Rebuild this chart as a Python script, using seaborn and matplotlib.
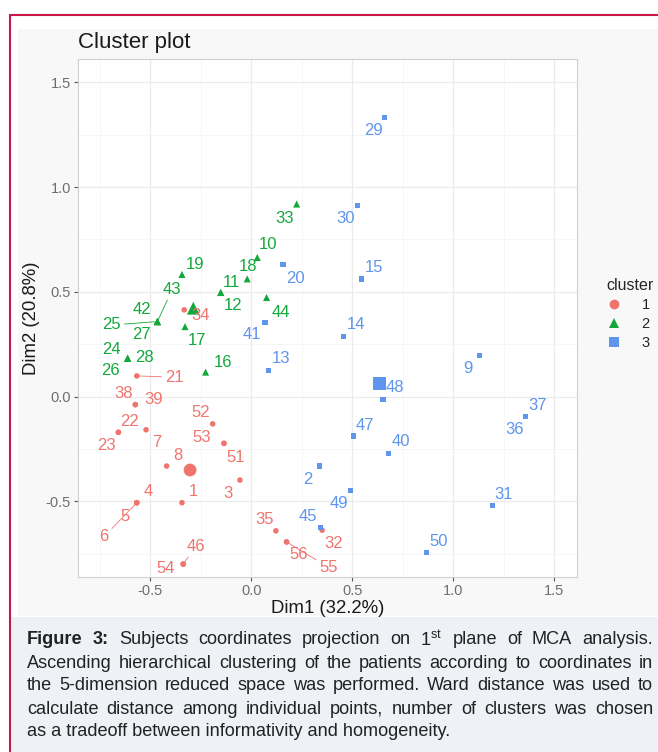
import numpy as np
import pandas as pd
import matplotlib
matplotlib.use("Agg")
import matplotlib.pyplot as plt
import seaborn as sns
from matplotlib.lines import Line2D
from matplotlib.patches import Rectangle
from matplotlib.ticker import FormatStrFormatter

# individual coordinates on the first MCA plane
point_ids = list(range(1, 57))
dim1 = [-0.344, 0.336, -0.057, -0.568, -0.568, -0.568, -0.522, -0.420, 1.128, 0.029,
        -0.152, -0.152, 0.083, 0.454, 0.547, -0.227, -0.329, -0.021, -0.344, 0.156,
        -0.568, -0.659, -0.659, -0.613, -0.466, -0.613, -0.466, -0.613, 0.661, 0.526,
        1.194, 0.350, 0.224, -0.333, 0.121, 1.359, 1.359, -0.575, -0.575, 0.677,
        0.067, -0.466, -0.466, 0.075, 0.343, -0.338, 0.504, 0.652, 0.491, 0.867,
        -0.136, -0.192, -0.136, -0.338, 0.174, 0.174]
dim2 = [-0.506, -0.331, -0.398, -0.506, -0.506, -0.506, -0.158, -0.331, 0.196, 0.664,
        0.497, 0.497, 0.123, 0.287, 0.561, 0.117, 0.334, 0.562, 0.583, 0.629,
        0.099, -0.170, -0.170, 0.183, 0.358, 0.183, 0.358, 0.183, 1.333, 0.911,
        -0.521, -0.637, 0.919, 0.414, -0.640, -0.096, -0.096, -0.038, -0.038, -0.270,
        0.354, 0.358, 0.358, 0.473, -0.624, -0.799, -0.188, -0.012, -0.449, -0.745,
        -0.223, -0.130, -0.223, -0.799, -0.693, -0.693]
cluster = ["1", "3", "1", "1", "1", "1", "1", "1", "3", "2",
           "2", "2", "3", "3", "3", "2", "2", "2", "2", "3",
           "1", "1", "1", "2", "2", "2", "2", "2", "3", "3",
           "3", "1", "2", "1", "1", "3", "3", "1", "1", "3",
           "3", "2", "2", "2", "3", "1", "3", "3", "3", "3",
           "1", "1", "1", "1", "1", "1"]

# cluster centres
centre_cluster = ["1", "2", "3"]
centre_dim1 = [-0.304, -0.288, 0.633]
centre_dim2 = [-0.350, 0.422, 0.061]

# label placement (pixel offsets from the point, like ggrepel put them)
label_offset = {
    1: (11.3, -11), 2: (-11, 13), 3: (-11.7, 13.3), 4: (11.6, -11), 5: (-11.7, 14),
    6: (-32.7, 34), 7: (10.7, 12.6), 8: (11, -10.3), 9: (-11.6, 12.6), 10: (11, -12.7),
    11: (10.3, -10), 12: (12.6, 13.3), 13: (12.4, -12), 14: (12.7, -11.7), 15: (12.3, -11.6),
    16: (17.6, -10), 17: (12.3, 14), 18: (0.4, -12.3), 19: (13, -10.4), 20: (12.3, 14),
    21: (37.3, 1.3), 22: (11, -10.6), 23: (-12.3, 13.7), 24: (-16.7, -9.3), 25: (-45.6, 3.3),
    26: (-17, 12.4), 27: (-15.6, 13.3), 28: (16.3, -1), 29: (-11.7, 13.3), 30: (-11.7, 13),
    31: (11.3, -11.7), 32: (11.7, 13.3), 33: (-12.4, 14), 34: (16.4, 6), 35: (-11.7, -11.4),
    36: (-11.7, 12.6), 37: (11.7, -11.7), 38: (-12, -10.7), 39: (18.7, -4.7), 40: (12.4, -11.6),
    41: (-12.7, 12.3), 42: (-15.3, -11.7), 43: (15, -32.4), 44: (14.3, 14.6), 45: (-12.4, -10.6),
    46: (12.7, -18), 47: (11.7, -11), 48: (11.7, -12), 49: (-11.7, 12.6), 50: (12.6, -11),
    51: (12, 14), 52: (-12, -11.3), 53: (-22.3, -6), 54: (-17.3, 4.3), 55: (42.3, 25.6),
    56: (11.6, 12.6),
}
with_segment = [6, 21, 25, 43, 46, 55]

palette = {"1": "#F0746E", "2": "#14A83C", "3": "#5E95EE"}
markers = {"1": "o", "2": "^", "3": "s"}
sizes = {"1": 16, "2": 26, "3": 14}

df = pd.DataFrame({"id": point_ids, "dim1": dim1, "dim2": dim2, "cluster": cluster})
centres = pd.DataFrame({"dim1": centre_dim1, "dim2": centre_dim2, "cluster": centre_cluster})

sns.set_style("white")
plt.rcParams["font.family"] = ["Liberation Sans", "DejaVu Sans"]
plt.rcParams["axes.unicode_minus"] = False
plt.rcParams["mathtext.fontset"] = "custom"
plt.rcParams["mathtext.rm"] = "Liberation Sans"

W, H = 658, 752
fig = plt.figure(figsize=(W / 100, H / 100), dpi=100)
fig.patch.set_facecolor("white")


def fx(px):
    return px / W


def fy(py):
    return 1 - py / H


# page decoration: red frame, grey image background, caption box
fig.add_artist(Rectangle((fx(18), fy(616)), 1 - fx(18), (616 - 29) / H, transform=fig.transFigure,
                         facecolor="#F8F8F8", edgecolor="none", zorder=-5))
fig.add_artist(Rectangle((fx(11), 0), 1 - fx(11), (752 - 617) / H, transform=fig.transFigure,
                         facecolor="#EEF1F5", edgecolor="none", zorder=-5))
fig.add_artist(Line2D([fx(10), 1], [fy(15), fy(15)], transform=fig.transFigure, color="#C8184A", lw=1.5))
fig.add_artist(Line2D([fx(10), fx(10)], [fy(15), 0], transform=fig.transFigure, color="#C8184A", lw=1.5))

ax = fig.add_axes([fx(78), fy(576.7), (576.7 - 78) / W, (576.7 - 59) / H])
ax.set_facecolor("white")

sns.scatterplot(data=df, x="dim1", y="dim2", hue="cluster", style="cluster", size="cluster",
                palette=palette, markers=markers, sizes=sizes, linewidth=0, legend=False, ax=ax, zorder=3)
sns.scatterplot(data=centres, x="dim1", y="dim2", hue="cluster", style="cluster",
                palette=palette, markers=markers, s=85, linewidth=0, legend=False, ax=ax, zorder=3)

for pid, x, y, c in zip(point_ids, dim1, dim2, cluster):
    dx, dy = label_offset[pid]
    arrow = None
    if pid in with_segment:
        arrow = dict(arrowstyle="-", color=palette[c], lw=0.6, shrinkA=0, shrinkB=1.5)
    ax.annotate(str(pid), xy=(x, y), xytext=(dx * 0.72, -dy * 0.72), textcoords="offset points",
                ha="center", va="center", fontsize=12, color=palette[c], arrowprops=arrow, zorder=4)

ax.set_xlim(-0.859, 1.611)
ax.set_ylim(-0.859, 1.611)
major = [-0.5, 0.0, 0.5, 1.0, 1.5]
minor = [-0.75, -0.25, 0.25, 0.75, 1.25]
ax.set_xticks(major)
ax.set_yticks(major)
ax.set_xticks(minor, minor=True)
ax.set_yticks(minor, minor=True)
ax.xaxis.set_major_formatter(FormatStrFormatter("%.1f"))
ax.yaxis.set_major_formatter(FormatStrFormatter("%.1f"))
ax.grid(which="major", color="#EBEBEB", lw=0.9)
ax.grid(which="minor", color="#F3F3F3", lw=0.5)
ax.set_axisbelow(True)
ax.tick_params(which="major", length=3, width=0.8, color="#555555", labelsize=10.5,
               labelcolor="#6E6E6E", pad=2, bottom=True, left=True)
ax.tick_params(which="minor", length=0)
for sp in ax.spines.values():
    sp.set_color("#D0D0D0")
    sp.set_linewidth(0.8)

ax.set_xlabel("Dim1 (32.2%)", fontsize=13.4, color="#1A1A1A", labelpad=2)
ax.set_ylabel("Dim2 (20.8%)", fontsize=13.4, color="#1A1A1A", labelpad=4)
ax.set_title("Cluster plot", loc="left", fontsize=16, color="#1A1A1A", pad=8)

handles = [Line2D([0], [0], marker=markers[k], color=palette[k], ls="", markersize=7, markeredgewidth=0)
           for k in centre_cluster]
ax.legend(handles, centre_cluster, title="cluster", loc="upper left", bbox_to_anchor=(fx(595), fy(266)),
          bbox_transform=fig.transFigure, frameon=False, fontsize=10.5, title_fontsize=11.5,
          alignment="left", handlelength=1.0, handletextpad=1.4, labelspacing=0.35,
          borderpad=0.3)

# caption, justified like the page
caption_lines = [
    [("Figure", True), ("3:", True), ("Subjects", False), ("coordinates", False), ("projection", False),
     ("on", False), ("1$^{\\mathrm{st}}$", False), ("plane", False), ("of", False), ("MCA", False),
     ("analysis.", False)],
    "Ascending hierarchical clustering of the patients according to coordinates in",
    "the 5-dimension reduced space was performed. Ward distance was used to",
    "calculate distance among individual points, number of clusters was chosen",
    "as a tradeoff between informativity and homogeneity.",
]
line_y = [640, 663, 686, 709, 732]
left_px, right_px = 27, 653
cap_size = 13.1
renderer = fig.canvas.get_renderer()
for i, (line, ypx) in enumerate(zip(caption_lines, line_y)):
    if isinstance(line, str):
        words = [(w, False) for w in line.split(" ")]
    else:
        words = line
    if i == len(caption_lines) - 1:
        fig.text(fx(left_px), fy(ypx), line, fontsize=cap_size, color="#222222", va="center", ha="left")
        continue
    texts = [fig.text(0, fy(ypx), w, fontsize=cap_size, color="#222222", va="center", ha="left",
                      fontweight="bold" if b else "normal") for w, b in words]
    widths = [t.get_window_extent(renderer).width for t in texts]
    gap = (right_px - left_px - sum(widths)) / (len(texts) - 1)
    xpos = left_px
    for t, w in zip(texts, widths):
        t.set_x(fx(xpos))
        xpos += w + gap

fig.savefig("out.png", dpi=100, facecolor=fig.get_facecolor())
